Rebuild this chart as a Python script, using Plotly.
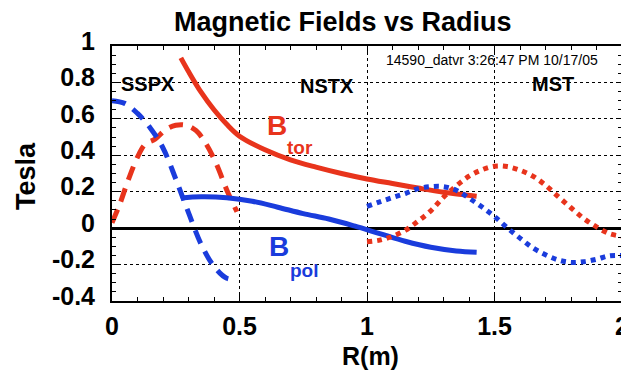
import plotly.graph_objects as go

# ---- data ----
sspx_r_tor = [0.0, 0.03, 0.06, 0.10, 0.13, 0.17, 0.21, 0.25, 0.29, 0.33, 0.37, 0.41, 0.45, 0.49]
sspx_btor = [0.03, 0.13, 0.25, 0.39, 0.46, 0.49, 0.54, 0.565, 0.565, 0.535, 0.46, 0.35, 0.21, 0.09]

sspx_r_pol = [0.0, 0.05, 0.10, 0.15, 0.20, 0.25, 0.30, 0.35, 0.40, 0.45, 0.49]
sspx_bpol = [0.70, 0.685, 0.63, 0.55, 0.44, 0.27, 0.085, -0.09, -0.21, -0.275, -0.28]

nstx_r_tor = [0.27, 0.30, 0.35, 0.40, 0.45, 0.50, 0.60, 0.70, 0.80, 0.90, 1.00, 1.10, 1.20, 1.30, 1.43]
nstx_btor = [0.935, 0.86, 0.745, 0.65, 0.57, 0.505, 0.43, 0.375, 0.335, 0.30, 0.27, 0.245, 0.22, 0.197, 0.175]

nstx_r_pol = [0.27, 0.35, 0.45, 0.55, 0.65, 0.75, 0.85, 0.95, 1.05, 1.15, 1.25, 1.35, 1.43]
nstx_bpol = [0.165, 0.172, 0.167, 0.148, 0.115, 0.08, 0.05, 0.012, -0.03, -0.072, -0.105, -0.125, -0.132]

mst_r = [1.0, 1.05, 1.1, 1.15, 1.2, 1.25, 1.3, 1.35, 1.4, 1.45, 1.5, 1.55, 1.6, 1.65,
         1.7, 1.75, 1.8, 1.85, 1.9, 1.95, 2.0]
mst_btor = [-0.075, -0.066, -0.045, -0.012, 0.038, 0.095, 0.17, 0.232, 0.285, 0.32, 0.34, 0.338,
            0.318, 0.286, 0.236, 0.173, 0.112, 0.053, 0.007, -0.03, -0.045]
mst_bpol = [0.12, 0.144, 0.168, 0.19, 0.217, 0.228, 0.228, 0.208, 0.165, 0.117, 0.064, 0.002,
            -0.055, -0.108, -0.146, -0.175, -0.188, -0.184, -0.171, -0.152, -0.15]

x_ticks = [0, 0.5, 1, 1.5, 2]
x_ticklabels = ["0", "0.5", "1", "1.5", "2"]
y_ticks = [-0.4, -0.2, 0, 0.2, 0.4, 0.6, 0.8, 1.0]
y_ticklabels = ["-0.4", "-0.2", "0", "0.2", "0.4", "0.6", "0.8", "1"]

RED = "#E8341C"
BLUE = "#1A3CDC"
FONT = "Liberation Sans, Arial, Helvetica, sans-serif"

# the page body has an 8px default margin, so the figure is drawn 8px in
OFF = 8
PAGE_W, PAGE_H = 629, 375
W, H = PAGE_W - OFF, PAGE_H - OFF
# plot frame in page pixels: x 112..622, y 46..301
L, T = 112 - OFF, 46 - OFF
R = W - (622 - OFF)
B = H - (301 - OFF)


def px(xp):  # page pixel -> paper x
    return (xp - OFF - L) / (W - L - R)


def py(yp):  # page pixel -> paper y
    return (H - B - (yp - OFF)) / (H - T - B)


fig = go.Figure()
DASH = "14px,9px"
DOT = "5px,5px"
fig.add_trace(go.Scatter(x=sspx_r_tor, y=sspx_btor, mode="lines", line=dict(color=RED, width=5, dash=DASH, shape="spline")))
fig.add_trace(go.Scatter(x=sspx_r_pol, y=sspx_bpol, mode="lines", line=dict(color=BLUE, width=5, dash=DASH, shape="spline")))
fig.add_trace(go.Scatter(x=nstx_r_tor, y=nstx_btor, mode="lines", line=dict(color=RED, width=5, shape="spline")))
fig.add_trace(go.Scatter(x=nstx_r_pol, y=nstx_bpol, mode="lines", line=dict(color=BLUE, width=5, shape="spline")))
fig.add_trace(go.Scatter(x=mst_r, y=mst_btor, mode="lines", line=dict(color=RED, width=5, dash=DOT, shape="spline")))
fig.add_trace(go.Scatter(x=mst_r, y=mst_bpol, mode="lines", line=dict(color=BLUE, width=5, dash=DOT, shape="spline")))

axis_common = dict(
    showline=True, linecolor="black", linewidth=2, mirror="allticks",
    ticks="inside", ticklen=6, tickwidth=1, tickcolor="black",
    showgrid=True, gridcolor="black", gridwidth=1, griddash="3px,3px",
    tickfont=dict(family=FONT, size=25, color="black", weight="bold"),
    automargin=False,
)

fig.update_xaxes(range=[0, 2], tickvals=x_ticks, ticktext=x_ticklabels, zeroline=False,
                 minor=dict(ticks="inside", ticklen=4, dtick=0.1, tickcolor="black", showgrid=False),
                 ticklabelstandoff=2, **axis_common)
fig.update_yaxes(range=[-0.4, 1.0], tickvals=y_ticks, ticktext=y_ticklabels,
                 zeroline=True, zerolinecolor="black", zerolinewidth=3,
                 minor=dict(ticks="inside", ticklen=4, dtick=0.05, tickcolor="black", showgrid=False),
                 ticklabelstandoff=10, ticklabelshift=-5, **axis_common)

ann = []


def text(xp, yp, s, size, color="black", bold=True, angle=0):
    ann.append(dict(xref="paper", yref="paper", x=px(xp), y=py(yp), text=s, showarrow=False,
                    xanchor="center", yanchor="middle", textangle=angle,
                    font=dict(family=FONT, size=size, color=color, weight="bold" if bold else "normal")))


text(343, 22, "Magnetic Fields vs Radius", 27)
text(26, 176, "Tesla", 27, angle=-90)
text(370, 356, "R(m)", 25)
text(148, 84, "SSPX", 20)
text(327, 86, "NSTX", 20)
text(553, 84, "MST", 20)
text(492, 60, "14590_datvr 3:26:47 PM 10/17/05", 14, bold=False)
text(277, 125, "B", 28, color=RED)
text(300, 147, "tor", 19, color=RED)
text(279, 246, "B", 28, color=BLUE)
text(304, 270, "pol", 19, color=BLUE)

fig.update_layout(
    width=W, height=H, margin=dict(l=L, r=R, t=T, b=B, pad=0, autoexpand=False),
    paper_bgcolor="white", plot_bgcolor="white", showlegend=False,
    annotations=ann, font=dict(family=FONT),
)

fig.write_html("out.html")
